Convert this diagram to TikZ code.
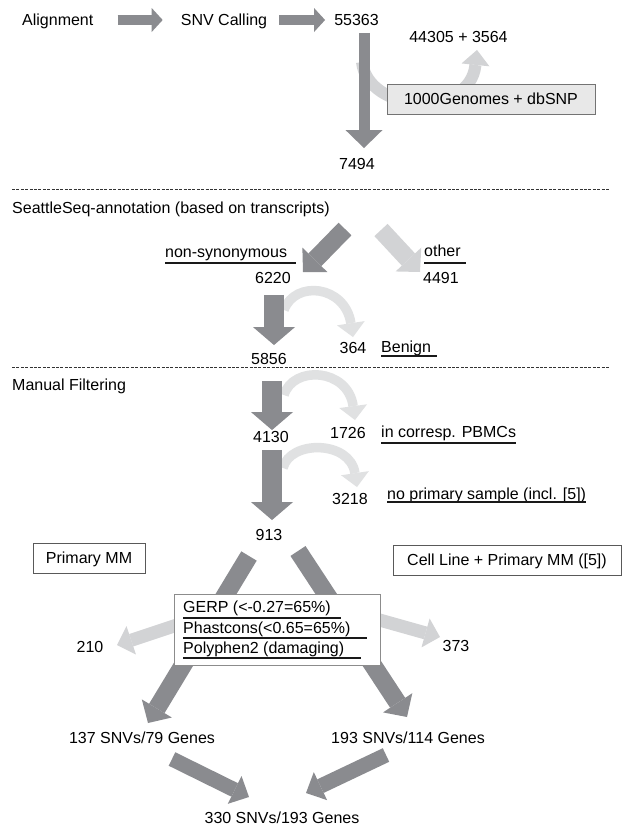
\documentclass[tikz,border=0pt]{standalone}
\usepackage{fontspec}
\setmainfont{Liberation Sans}
\usetikzlibrary{arrows.meta}

\definecolor{flowdark}{RGB}{138,139,143}
\definecolor{flowlight}{RGB}{210,211,213}
\definecolor{flowpale}{RGB}{224,225,226}
\definecolor{dbfill}{RGB}{232,232,232}

\begin{document}
\begin{tikzpicture}[
  x=1pt, y=-1pt,
  font=\fontsize{16}{19}\selectfont,
  lbl/.style={inner sep=0pt, text height=11.5pt, text depth=0pt},
  boxed/.style={draw=black!65, line width=0.8pt, fill=white, inner sep=0pt, minimum height=30pt, text height=11.5pt, text depth=0pt},
  uline/.style={draw=black!90, line width=2.2pt},
  sep/.style={draw=black!80, line width=0.6pt, dash pattern=on 3pt off 1.4pt},
  hflow/.style={draw=flowdark, line width=10pt, -{Triangle[length=11pt, width=24pt, line width=0pt]}},
  callflow/.style={draw=flowdark, line width=11pt, -{Triangle[length=18pt, width=37pt, line width=0pt]}},
  dbflow/.style={draw=flowlight, line width=12pt, -{Triangle[length=15pt, width=28pt, line width=0pt]}},
  splitflow/.style={draw=flowdark, line width=18pt, -{Triangle[length=17pt, width=35pt, line width=0pt]}},
  stepflow/.style={draw=flowdark, line width=20pt, -{Triangle[length=18pt, width=42pt, line width=0pt]}},
  arcflow/.style={draw=flowpale, line width=9.5pt, -{Triangle[length=14pt, width=28pt, line width=0pt]}},
  branchflow/.style={draw=flowdark, line width=18pt, -{Triangle[length=17pt, width=35pt, line width=0pt]}},
  dropflow/.style={draw=flowlight, line width=13pt, -{Triangle[length=15pt, width=30pt, line width=0pt]}},
  mergeflow/.style={draw=flowdark, line width=15pt, -{Triangle[length=16pt, width=31pt, line width=0pt]}}
]

\fill[white] (0,0) rectangle (627,828);
\useasboundingbox (0,0) rectangle (627,828);

% Calling pipeline.
\node[lbl, anchor=west] (align) at (22,20) {Alignment};
\node[lbl] (snv) at (224,20) {SNV Calling};
\node[lbl] (n55363) at (356.5,20) {55363};
\node[lbl] (n44305) at (458.5,37) {44305 + 3564};
\node[lbl] (n7494) at (357,164) {7494};

\draw[hflow, shorten <=24pt, shorten >=18pt] (align) -- (snv);
\draw[hflow, shorten <=12pt, shorten >=9pt] (snv) -- (n55363);

% Known variants removed.
\draw[dbflow] ([xshift=5.5pt, yshift=-36pt]n55363.south)
  .. controls +(6,52) and +(-7,68) .. ([xshift=18.5pt, yshift=-7pt]n44305.south);
\draw[callflow, shorten <=7pt, shorten >=10pt] ([xshift=7.5pt]n55363.south) -- ([xshift=7pt]n7494.north);
\node[boxed, fill=dbfill, draw=black!55, minimum width=208pt] (dbsnp) at (491,99) {1000Genomes + dbSNP};

% Section rules.
\draw[sep] (12,189) -- (610,189);
\node[lbl, anchor=west] (seattle) at (12,208) {SeattleSeq-annotation (based on transcripts)};
\draw[sep] (12,367) -- (610,367);
\node[lbl, anchor=west] (manual) at (12,385) {Manual Filtering};

% Annotation split.
\node[lbl, anchor=west] (nonsyn) at (165,252) {non-synonymous};
\node[lbl] (n6220) at (273,278) {6220};
\node[lbl, anchor=west] (other) at (424,251) {other};
\node[lbl] (n4491) at (441,278) {4491};
\draw[uline] ([yshift=-11pt]nonsyn.west) -- ([xshift=9pt, yshift=-11pt]nonsyn.east);
\draw[uline] ([yshift=-12pt]other.west) -- ([xshift=5pt, yshift=-12pt]other.east);

\coordinate (synTail) at (345,229);
\coordinate (synTip) at (303,272);
\coordinate (otherTail) at (381,230);
\coordinate (otherTip) at (420,272);
\draw[splitflow] (synTail) -- (synTip);
\draw[splitflow, draw=flowlight] (otherTail) -- (otherTip);

% Benign filter.
\node[lbl] (n5856) at (269,359) {5856};
\node[lbl] (n364) at (353,348) {364};
\node[lbl, anchor=west] (benign) at (381,347) {Benign};
\draw[uline] ([yshift=-9pt]benign.west) -- ([xshift=6pt, yshift=-9pt]benign.east);

\draw[arcflow] ([xshift=11pt, yshift=-26pt]n6220.south)
  .. controls +(11,-30) and +(-8,-52) .. ([yshift=5pt]n364.north);
\draw[stepflow, shorten <=11pt, shorten >=8pt] ([xshift=1pt]n6220.south) -- ([xshift=5pt]n5856.north);

% Manual filtering steps.
\node[lbl] (n4130) at (271,437) {4130};
\node[lbl] (n1726) at (348,433) {1726};
\node[lbl, anchor=west] (pbmc) at (381,432) {in corresp. PBMCs};
\draw[uline] ([yshift=-11pt]pbmc.west) -- ([yshift=-11pt]pbmc.east);
\node[lbl] (n3218) at (350,499) {3218};
\node[lbl, anchor=west] (noprim) at (387,494) {no primary sample (incl. [5])};
\draw[uline] ([yshift=-8pt]noprim.west) -- ([yshift=-8pt]noprim.east);
\node[lbl] (n913) at (269,535) {913};

\draw[arcflow] ([xshift=13pt, yshift=36pt]n4130.north)
  .. controls +(9,-30) and +(-7,-52) .. ([xshift=7pt, yshift=7pt]n1726.north);
\draw[stepflow, shorten <=16pt, shorten >=1pt] ([xshift=3pt]n5856.south) -- ([xshift=1pt]n4130.north);
\draw[arcflow] ([xshift=12pt, yshift=-25pt]n4130.south)
  .. controls +(7,-28) and +(-7,-47) .. ([xshift=7pt, yshift=6pt]n3218.north);
\draw[stepflow, shorten <=7pt, shorten >=9pt] ([xshift=1pt]n4130.south) -- ([xshift=3pt]n913.north);

% Cohorts and conservation filters.
\node[boxed, minimum width=112pt] (primary) at (89,558) {Primary MM};
\node[boxed, minimum width=228pt] (cellline) at (507,560) {Cell Line + Primary MM ([5])};

\coordinate (priTail) at (249,556);
\coordinate (priTip) at (148,723);
\coordinate (cellTail) at (298,551);
\coordinate (cellTip) at (407,717);
\coordinate (dropLeft) at (180,624);
\coordinate (dropLeftTip) at (117,645);
\coordinate (dropRight) at (376,619);
\coordinate (dropRightTip) at (440,637);
\draw[branchflow] (priTail) -- (priTip);
\draw[branchflow] (cellTail) -- (cellTip);
\draw[dropflow] (dropLeft) -- (dropLeftTip);
\draw[dropflow] (dropRight) -- (dropRightTip);

\node[boxed, draw=black!45, minimum width=206pt, minimum height=71pt] (filters) at (277,629.5) {};
\node[lbl, anchor=west] (gerp) at (183,607) {GERP (<-0.27=65\%)};
\node[lbl, anchor=west] (phast) at (183,628) {Phastcons(<0.65=65\%)};
\node[lbl, anchor=west] (poly) at (183,648) {Polyphen2 (damaging)};
\draw[uline] ([yshift=-11pt]gerp.west) -- ([xshift=10pt, yshift=-11pt]gerp.east);
\draw[uline] ([yshift=-10pt]phast.west) -- ([xshift=16pt, yshift=-10pt]phast.east);
\draw[uline] ([yshift=-10pt]poly.west) -- ([xshift=17pt, yshift=-10pt]poly.east);

\node[lbl] (n210) at (90,647) {210};
\node[lbl] (n373) at (456,646) {373};

% Merged result.
\node[lbl] (left) at (142,738) {137 SNVs/79 Genes};
\node[lbl] (right) at (408,738) {193 SNVs/114 Genes};
\node[lbl] (total) at (282,818) {330 SNVs/193 Genes};

\coordinate (leftTail) at (172,759);
\coordinate (leftTip) at (249,797);
\coordinate (rightTail) at (386,755);
\coordinate (rightTip) at (306,793);
\draw[mergeflow] (leftTail) -- (leftTip);
\draw[mergeflow] (rightTail) -- (rightTip);

\end{tikzpicture}
\end{document}
